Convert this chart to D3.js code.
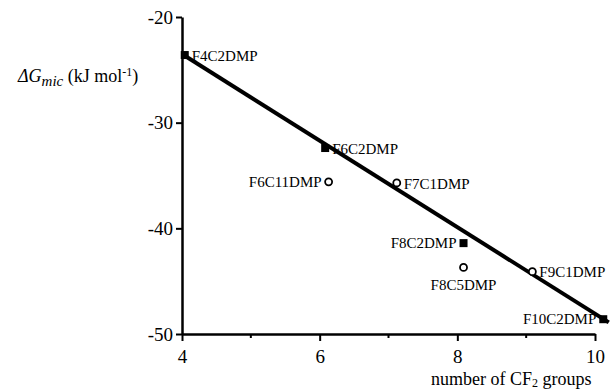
<!DOCTYPE html>
<html>
<head>
<meta charset="utf-8">
<script src="https://cdn.jsdelivr.net/npm/d3@7"></script>
<style>
body { margin: 0; background: #fff; }
svg text { font-family: "Liberation Serif", "Times New Roman", serif; fill: #000; }
</style>
</head>
<body>
<svg id="view" width="613" height="391"></svg>
<script>
// DATA
var names = ["F4C2DMP", "F6C2DMP", "F6C11DMP", "F7C1DMP", "F8C2DMP", "F8C5DMP", "F9C1DMP", "F10C2DMP"];
var cf2 = [4.04, 6.08, 6.13, 7.12, 8.09, 8.09, 9.09, 10.12];
var dG = [-23.6, -32.4, -35.6, -35.7, -41.4, -43.7, -44.1, -48.6];
var kind = ["square", "square", "circle", "circle", "square", "circle", "circle", "square"];
var side = ["right", "right", "left", "right", "left", "below", "right", "left"];
var fitX = [4.0, 10.2];
var fitY = [-23.5, -48.9];
var xTicks = [4, 6, 8, 10];
var xMinor = [5, 7, 9];
var yTicks = [-20, -30, -40, -50];

// LAYOUT
var X0 = 182, X1 = 595;
var Y0 = 334, Y1 = 17;
var SERIF = "'Liberation Serif', 'Times New Roman', serif";

var svg = d3.select("#view");
var x = d3.scaleLinear().domain([4, 10]).range([X0, X1]);
var y = d3.scaleLinear().domain([-50, -20]).range([Y0, Y1]);
var fmt = function(d) { return String(d); };

// axes
var xAxis = svg.append("g")
    .attr("transform", "translate(0," + Y0 + ")")
    .call(d3.axisBottom(x).tickValues(xTicks).tickFormat(fmt).tickSize(7).tickSizeOuter(0).tickPadding(9))
    ;
xAxis.select(".domain").attr("stroke-width", 2.5);
xAxis.selectAll(".tick line").attr("stroke-width", 2);
xAxis.selectAll(".tick text")
    .style("font-family", SERIF)
    .style("font-size", "19px")
    ;
xAxis.selectAll("line.minor")
    .data(xMinor)
    .enter().append("line")
    .attr("class", "minor")
    .attr("x1", function(d) { return x(d); })
    .attr("x2", function(d) { return x(d); })
    .attr("y1", 0)
    .attr("y2", 4)
    .attr("stroke", "#000")
    .attr("stroke-width", 2)
    ;

var yAxis = svg.append("g")
    .attr("transform", "translate(" + X0 + ",0)")
    .call(d3.axisLeft(y).tickValues(yTicks).tickFormat(fmt).tickSize(6).tickSizeOuter(0).tickPadding(3))
    ;
yAxis.select(".domain").attr("stroke-width", 2.5);
yAxis.selectAll(".tick line").attr("stroke-width", 2);
yAxis.selectAll(".tick text")
    .style("font-family", SERIF)
    .style("font-size", "19px")
    ;
svg.selectAll(".domain, .tick line").attr("stroke", "#000");

// axis titles
var xt = svg.append("text")
    .attr("x", 431)
    .attr("y", 385)
    .attr("font-size", 18)
    ;
xt.append("tspan").text("number of CF");
xt.append("tspan").attr("font-size", 12).attr("dy", 2).text("2");
xt.append("tspan").attr("dy", -2).text(" groups");

var yt = svg.append("text")
    .attr("x", 18)
    .attr("y", 82)
    .attr("font-size", 18)
    ;
yt.append("tspan").attr("font-style", "italic").text("ΔG");
yt.append("tspan").attr("font-style", "italic").attr("font-size", 15).attr("dy", 4).text("mic");
yt.append("tspan").attr("dy", -4).text(" (kJ mol");
yt.append("tspan").attr("font-size", 12).attr("dy", -6).text("-1");
yt.append("tspan").attr("dy", 6).text(")");

// fit line
svg.append("line")
    .attr("x1", x(fitX[0]))
    .attr("y1", y(fitY[0]))
    .attr("x2", x(fitX[1]))
    .attr("y2", y(fitY[1]))
    .attr("stroke", "#000")
    .attr("stroke-width", 4)
    ;

// points
var pts = svg.append("g");
for (var i = 0; i < names.length; i++) {
    var px = x(cf2[i]);
    var py = y(dG[i]);
    if (kind[i] === "square") {
        pts.append("rect")
            .attr("x", px - 4)
            .attr("y", py - 4)
            .attr("width", 8)
            .attr("height", 8)
            .attr("fill", "#000")
            ;
    }
    else {
        pts.append("circle")
            .attr("cx", px)
            .attr("cy", py)
            .attr("r", 3.5)
            .attr("fill", "#fff")
            .attr("stroke", "#000")
            .attr("stroke-width", 1.8)
            ;
    }
    var label = pts.append("text")
        .attr("font-size", 15)
        .text(names[i])
        ;
    if (side[i] === "right") {
        label.attr("x", px + 7).attr("y", py + 1).attr("dy", "0.32em");
    }
    else if (side[i] === "left") {
        label.attr("x", px - 7).attr("y", py).attr("dy", "0.32em").attr("text-anchor", "end");
    }
    else {
        label.attr("x", px).attr("y", py + 18).attr("dy", "0.32em").attr("text-anchor", "middle");
    }
}
</script>
</body>
</html>
